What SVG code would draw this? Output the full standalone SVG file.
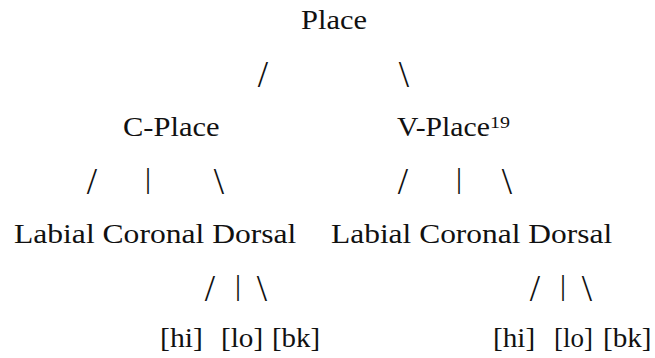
<svg xmlns="http://www.w3.org/2000/svg" width="655" height="358" viewBox="0 0 655 358">
<rect width="655" height="358" fill="#fff"/>
<g id="connectors">
<text style="font-family:'Liberation Serif',serif;font-size:37px;fill:#111;text-anchor:middle" x="263" y="87">/</text>
<text style="font-family:'Liberation Serif',serif;font-size:37px;fill:#111;text-anchor:middle" x="404" y="87">\</text>
<text style="font-family:'Liberation Serif',serif;font-size:37px;fill:#111;text-anchor:middle" x="92" y="194">/</text>
<text style="font-family:'Liberation Serif',serif;font-size:30px;fill:#111;text-anchor:middle" x="148" y="188">|</text>
<text style="font-family:'Liberation Serif',serif;font-size:37px;fill:#111;text-anchor:middle" x="219" y="194">\</text>
<text style="font-family:'Liberation Serif',serif;font-size:37px;fill:#111;text-anchor:middle" x="403" y="194">/</text>
<text style="font-family:'Liberation Serif',serif;font-size:30px;fill:#111;text-anchor:middle" x="459" y="188">|</text>
<text style="font-family:'Liberation Serif',serif;font-size:37px;fill:#111;text-anchor:middle" x="507" y="194">\</text>
<text style="font-family:'Liberation Serif',serif;font-size:37px;fill:#111;text-anchor:middle" x="210" y="301">/</text>
<text style="font-family:'Liberation Serif',serif;font-size:30px;fill:#111;text-anchor:middle" x="238" y="295">|</text>
<text style="font-family:'Liberation Serif',serif;font-size:37px;fill:#111;text-anchor:middle" x="262" y="301">\</text>
<text style="font-family:'Liberation Serif',serif;font-size:37px;fill:#111;text-anchor:middle" x="535" y="301">/</text>
<text style="font-family:'Liberation Serif',serif;font-size:30px;fill:#111;text-anchor:middle" x="563" y="295">|</text>
<text style="font-family:'Liberation Serif',serif;font-size:37px;fill:#111;text-anchor:middle" x="587" y="301">\</text>
</g>
<g id="place" transform="translate(301,29) scale(1.13,1)"><text style="font-family:'Liberation Serif',serif;font-size:27px;fill:#111" x="0" y="0">Place</text></g>
<g id="c-place" transform="translate(123,136) scale(1.13,1)"><text style="font-family:'Liberation Serif',serif;font-size:27px;fill:#111" x="0" y="0">C-Place</text></g>
<g id="v-place"><g transform="translate(397,136) scale(1.1,1)"><text style="font-family:'Liberation Serif',serif;font-size:27px;fill:#111" x="0" y="0">V-Place</text></g><g transform="translate(490,128) scale(1.25,1)"><text style="font-family:'Liberation Serif',serif;font-size:16px;fill:#111" x="0" y="0">19</text></g></g>
<g id="c-features" transform="translate(14,243) scale(1.17,1)"><text style="font-family:'Liberation Serif',serif;font-size:27px;fill:#111" x="0" y="0">Labial Coronal Dorsal</text></g>
<g id="v-features" transform="translate(331,243) scale(1.165,1)"><text style="font-family:'Liberation Serif',serif;font-size:27px;fill:#111" x="0" y="0">Labial Coronal Dorsal</text></g>
<g id="c-dorsal"><g transform="translate(160,347) scale(1.1,1)"><text style="font-family:'Liberation Serif',serif;font-size:27px;fill:#111" x="0" y="0">[hi]</text></g><g transform="translate(221,347) scale(1.08,1)"><text style="font-family:'Liberation Serif',serif;font-size:27px;fill:#111" x="0" y="0">[lo]</text></g><g transform="translate(272,347) scale(1.07,1)"><text style="font-family:'Liberation Serif',serif;font-size:27px;fill:#111" x="0" y="0">[bk]</text></g></g>
<g id="v-dorsal"><g transform="translate(493,347) scale(1.08,1)"><text style="font-family:'Liberation Serif',serif;font-size:27px;fill:#111" x="0" y="0">[hi]</text></g><g transform="translate(554,347) scale(1.0,1)"><text style="font-family:'Liberation Serif',serif;font-size:27px;fill:#111" x="0" y="0">[lo]</text></g><g transform="translate(603,347) scale(1.08,1)"><text style="font-family:'Liberation Serif',serif;font-size:27px;fill:#111" x="0" y="0">[bk]</text></g></g>
</svg>
